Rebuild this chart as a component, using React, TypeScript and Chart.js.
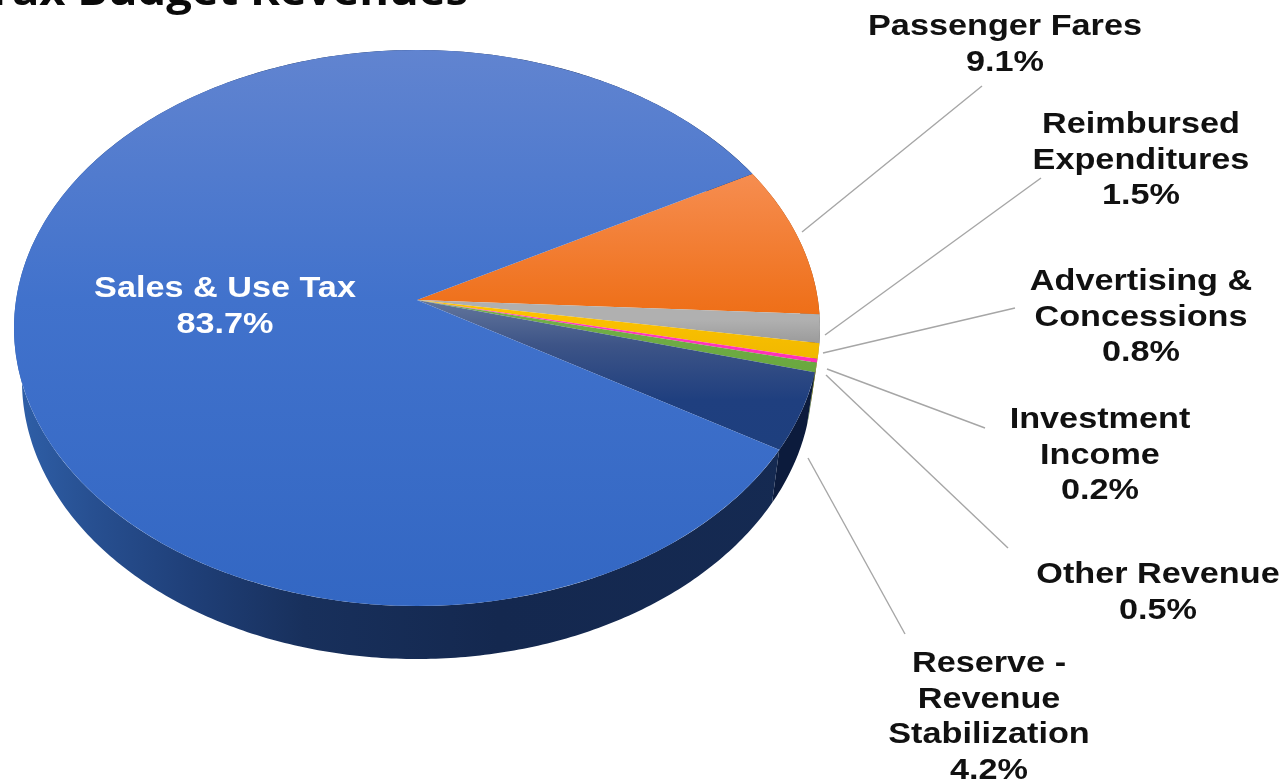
import React, { useEffect, useRef } from "react";
import { Chart, registerables } from "chart.js";

Chart.register(...registerables);

const categories = [
  "Passenger Fares",
  "Reimbursed Expenditures",
  "Advertising & Concessions",
  "Investment Income",
  "Other Revenue",
  "Reserve - Revenue Stabilization",
  "Sales & Use Tax",
];
const values = [9.1, 1.5, 0.8, 0.2, 0.5, 4.2, 83.7];
const labelLines = [
  ["Passenger Fares"],
  ["Reimbursed", "Expenditures"],
  ["Advertising &", "Concessions"],
  ["Investment", "Income"],
  ["Other Revenue"],
  ["Reserve -", "Revenue", "Stabilization"],
  ["Sales & Use Tax"],
];
const titleText = "Tax Budget Revenues";

// Styling and layout
const faceStops: [number, string][][] = [
  [[175, "#f68d50"], [320, "#ee6e16"]],
  [[320, "#b0b0b0"], [346, "#989898"]],
  [[300, "#ffc400"], [360, "#f0b800"]],
  [[300, "#ff40c0"], [360, "#ff30b8"]],
  [[300, "#74b04a"], [370, "#6aa83f"]],
  [[300, "#63769c"], [345, "#3d5487"], [400, "#1f3f7f"], [445, "#1e3f7e"]],
  [[50, "#6184d0"], [300, "#4172cc"], [606, "#3367c3"]],
];
const sideColors = ["#a04d10", "#6f6f6f", "#b08600", "#b02080", "#4a7530", "#0c1b3c", ""];
const APEX = { x: 417, y: 300 };
const RIM = { cy: 328, rx: 403, ry: 278 };
const DEPTH = 53;
const BASE_RX = 395;
const SY_TOP = 1.15;
const SY_BOTTOM = 1.1 * (306 / 250);
const SX = 1.1 * (403 / 250);
const TEXT_STRETCH = 1.18;
const TITLE_STRETCH = 1.105;
const labelSpots = [
  { x: 1005, y: 35 },
  { x: 1141, y: 133 },
  { x: 1141, y: 290 },
  { x: 1100, y: 428 },
  { x: 1158, y: 583 },
  { x: 989, y: 672 },
  { x: 225, y: 297 },
];
const leaders: number[][] = [
  [802, 232, 982, 86],
  [825, 335, 1041, 178],
  [823, 353, 1015, 308],
  [827, 369, 985, 428],
  [826, 375, 1008, 548],
  [808, 458, 905, 634],
];

const toChartY = (y: number) =>
  APEX.y + (y - APEX.y) / (y < APEX.y ? SY_TOP : SY_BOTTOM);

function rimPoint(a: number) {
  const dx = Math.cos(a) * SX;
  const s = Math.sin(a);
  const dy = s * (s < 0 ? SY_TOP : SY_BOTTOM);
  const oy = APEX.y - RIM.cy;
  const A = (dx * dx) / (RIM.rx * RIM.rx) + (dy * dy) / (RIM.ry * RIM.ry);
  const B = (2 * oy * dy) / (RIM.ry * RIM.ry);
  const C = (oy * oy) / (RIM.ry * RIM.ry) - 1;
  const t = (-B + Math.sqrt(B * B - 4 * A * C)) / (2 * A);
  return { x: APEX.x + t * dx, y: APEX.y + t * dy };
}

function applyFace(ctx: CanvasRenderingContext2D, arc: any, top: boolean) {
  ctx.beginPath();
  ctx.ellipse(APEX.x, RIM.cy, RIM.rx, RIM.ry, 0, 0, Math.PI * 2);
  ctx.clip();
  ctx.beginPath();
  if (top) ctx.rect(0, 0, 1286, APEX.y);
  else ctx.rect(0, APEX.y - 0.5, 1286, 780);
  ctx.clip();
  ctx.translate(arc.x, arc.y);
  ctx.scale(SX, top ? SY_TOP : SY_BOTTOM);
  ctx.translate(-arc.x, -arc.y);
}

const piePlugin = {
  id: "pie3d",
  beforeDatasetsDraw(chart: any) {
    const ctx: CanvasRenderingContext2D = chart.ctx;
    const arcs = chart.getDatasetMeta(0).data;
    const salesSide = ctx.createLinearGradient(14, 0, 820, 0);
    salesSide.addColorStop(0, "#2f60a9");
    salesSide.addColorStop(0.1, "#274f90");
    salesSide.addColorStop(0.22, "#1f3f78");
    salesSide.addColorStop(0.36, "#18305c");
    salesSide.addColorStop(0.6, "#14284f");
    salesSide.addColorStop(1, "#152a52");
    arcs.forEach((arc: any, i: number) => {
      const n = Math.max(8, Math.ceil((arc.endAngle - arc.startAngle) * 80));
      const top: { x: number; y: number }[] = [];
      for (let k = 0; k <= n; k++) {
        top.push(rimPoint(arc.startAngle + ((arc.endAngle - arc.startAngle) * k) / n));
      }
      ctx.beginPath();
      top.forEach((p, k) => (k ? ctx.lineTo(p.x, p.y) : ctx.moveTo(p.x, p.y)));
      for (let k = n; k >= 0; k--) {
        const p = top[k];
        ctx.lineTo(APEX.x + ((p.x - APEX.x) * BASE_RX) / RIM.rx, p.y + DEPTH);
      }
      ctx.closePath();
      ctx.fillStyle = sideColors[i] || salesSide;
      ctx.fill();
    });
    ctx.save();
    applyFace(ctx, arcs[0], true);
  },
  afterDatasetsDraw(chart: any) {
    const ctx: CanvasRenderingContext2D = chart.ctx;
    const meta = chart.getDatasetMeta(0);
    ctx.restore();
    ctx.save();
    applyFace(ctx, meta.data[0], false);
    meta.controller.draw();
    ctx.restore();
  },
  afterDraw(chart: any) {
    const ctx: CanvasRenderingContext2D = chart.ctx;
    ctx.save();
    ctx.strokeStyle = "#a6a6a6";
    ctx.lineWidth = 1.4;
    leaders.forEach(([x1, y1, x2, y2]) => {
      ctx.beginPath();
      ctx.moveTo(x1, y1);
      ctx.lineTo(x2, y2);
      ctx.stroke();
    });
    ctx.textAlign = "center";
    ctx.textBaseline = "alphabetic";
    ctx.font = "bold 29px 'Liberation Sans'";
    const put = (text: string, x: number, y: number, color: string, stretch: number) => {
      ctx.save();
      ctx.translate(x, y);
      ctx.scale(stretch, 1);
      ctx.fillStyle = color;
      ctx.fillText(text, 0, 0);
      ctx.restore();
    };
    categories.forEach((_, i) => {
      const lines = [...labelLines[i], `${values[i].toFixed(1)}%`];
      const color = i === categories.length - 1 ? "#ffffff" : "#111111";
      lines.forEach((line, j) =>
        put(line, labelSpots[i].x, labelSpots[i].y + j * 35.5, color, TEXT_STRETCH)
      );
    });
    ctx.textAlign = "right";
    ctx.font = "bold 41px 'Open Sans'";
    put(titleText, 468, 5, "#0a0a0a", TITLE_STRETCH);
    ctx.restore();
  },
};

export default function App() {
  const ref = useRef<HTMLCanvasElement | null>(null);
  useEffect(() => {
    document.body.style.margin = "0";
    document.body.style.background = "#ffffff";
    const canvas = ref.current!;
    const ctx = canvas.getContext("2d")!;
    const fills = faceStops.map((stops) => {
      const y0 = toChartY(stops[0][0]);
      const y1 = toChartY(stops[stops.length - 1][0]);
      const g = ctx.createLinearGradient(0, y0, 0, y1);
      stops.forEach(([y, c]) => g.addColorStop((toChartY(y) - y0) / (y1 - y0), c));
      return g;
    });
    const chart = new Chart(canvas, {
      type: "pie",
      data: {
        labels: categories,
        datasets: [{ data: values, backgroundColor: fills, borderWidth: 0, clip: false } as any],
      },
      options: {
        responsive: false,
        animation: false,
        rotation: 59.9,
        layout: { padding: { left: 167, right: 619, top: 50, bottom: 230 } },
        plugins: { legend: { display: false }, tooltip: { enabled: false }, title: { display: false } },
      },
      plugins: [piePlugin],
    } as any);
    return () => chart.destroy();
  }, []);
  return <canvas ref={ref} width={1286} height={780} style={{ display: "block" }} />;
}
